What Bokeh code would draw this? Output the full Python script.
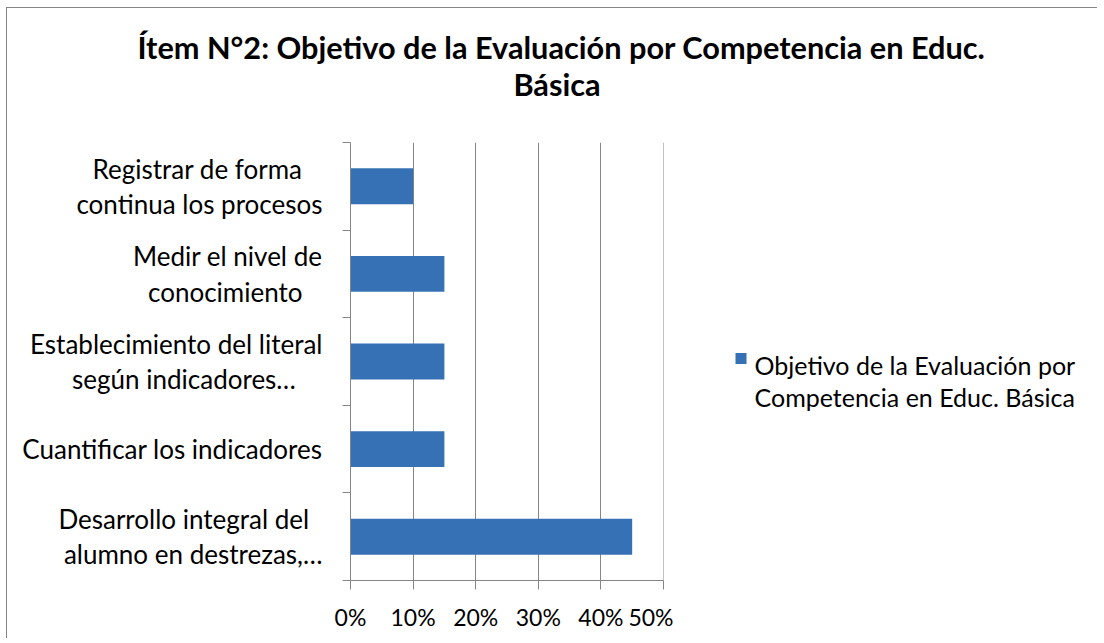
from bokeh.plotting import figure
from bokeh.models import ColumnDataSource, Range1d, FixedTicker, NumeralTickFormatter
from bokeh.layouts import column, row
from bokeh.core.properties import value
from bokeh.embed import file_html
from bokeh.resources import INLINE

# ---- data (top to bottom as shown) ----
categories = [
    "Registrar de forma\ncontinua los procesos",
    "Medir el nivel de\nconocimiento",
    "Establecimiento del literal\nsegún indicadores…",
    "Cuantificar los indicadores",
    "Desarrollo integral del\nalumno en destrezas,…",
]
values = [0.10, 0.15, 0.15, 0.15, 0.45]
series_name = ["Objetivo de la Evaluación por", "Competencia en Educ. Básica"]
title_lines = ["Ítem N°2: Objetivo de la Evaluación por Competencia en Educ.", "Básica"]
x_ticks = [0, 0.1, 0.2, 0.3, 0.4, 0.5]

# layout only: trailing non-breaking spaces per line, so lines look centred in their block
line_pad = [[3, 0], [0, 3], [0, 4], [0], [2, 0]]

FONT = "Lato"
GRID = "#868686"
BAR = "#3670B5"

W, H = 1090, 630
TOPH = 134             # title band height
LEFT, FRAME_W, FRAME_H = 343, 313, 438
MAIN_W = LEFT + FRAME_W + 10

n = len(categories)
ypos = [n - i - 0.5 for i in range(n)]
src = ColumnDataSource(dict(y=ypos, v=values, cat=categories))

def padded(label, pads):
    lines = label.split("\n")
    return "\n".join(l + "\u00a0" * k for l, k in zip(lines, pads))

def blank(w, h):
    f = figure(width=w, height=h, output_backend="svg", toolbar_location=None,
               x_range=Range1d(0, w), y_range=Range1d(h, 0),
               x_axis_location=None, y_axis_location=None, min_border=0)
    f.outline_line_color = None
    f.xgrid.grid_line_color = None
    f.ygrid.grid_line_color = None
    return f

# ---- title band ----
t = blank(W, TOPH)
t.text(x=[554, 549.5], y=[38.7, 75.7], text=title_lines, text_font=value(FONT),
       text_font_size="30.7px", text_font_style="bold", text_color="black",
       text_align="center", text_baseline="middle")

# ---- main chart ----
p = figure(width=MAIN_W, height=H - TOPH, output_backend="svg", toolbar_location=None,
           x_range=Range1d(0, 0.50005), y_range=Range1d(0, n),
           min_border_left=LEFT, min_border_right=MAIN_W - LEFT - FRAME_W,
           min_border_top=0, min_border_bottom=H - TOPH - FRAME_H, align="start")
p.outline_line_color = None
p.xgrid.ticker = FixedTicker(ticks=x_ticks)
p.xgrid.grid_line_color = GRID
p.ygrid.grid_line_color = None

p.hbar(y="y", right="v", left=0, height=0.41, source=src, fill_color=BAR, line_color=None)

xa = p.xaxis[0]
xa.ticker = FixedTicker(ticks=x_ticks)
xa.formatter = NumeralTickFormatter(format="0%")
xa.axis_line_color = GRID
xa.major_tick_line_color = GRID
xa.major_tick_out = 9
xa.major_tick_in = 0
xa.minor_tick_line_color = None
xa.major_label_text_font = FONT
xa.major_label_text_font_size = "23px"
xa.major_label_text_color = "black"
xa.major_label_standoff = 13

ya = p.yaxis[0]
ya.ticker = FixedTicker(ticks=ypos, minor_ticks=list(range(n + 1)))
ya.major_label_overrides = {y: padded(c, line_pad[i]) for i, (y, c) in enumerate(zip(ypos, categories))}
ya.axis_line_color = GRID
ya.minor_tick_line_color = GRID
ya.minor_tick_out = 8
ya.minor_tick_in = 0
ya.major_tick_line_color = None
ya.major_tick_out = 0
ya.major_tick_in = 0
ya.major_label_standoff = 20
ya.major_label_text_font = FONT
ya.major_label_text_font_size = "26px"
ya.major_label_text_color = "black"
ya.major_label_text_line_height = 1.1

# ---- legend band ----
lg = blank(W - MAIN_W, H - TOPH)
lg.align = "start"
lg.scatter(x=[67.5], y=[244.7], marker="square", size=11, fill_color=BAR, line_color=None)
lg.text(x=[81, 81], y=[251.6, 288.4], text=series_name, text_font=value(FONT),
        text_font_size="25px", text_color="black", text_align="left", text_baseline="middle")

layout = column(t, row(p, lg))
layout.styles = {"border-left": "1px solid #868686", "border-top": "1px solid #868686",
                 "margin-left": "6px", "margin-top": "7px"}

open("out.html", "w").write(file_html(layout, INLINE))
